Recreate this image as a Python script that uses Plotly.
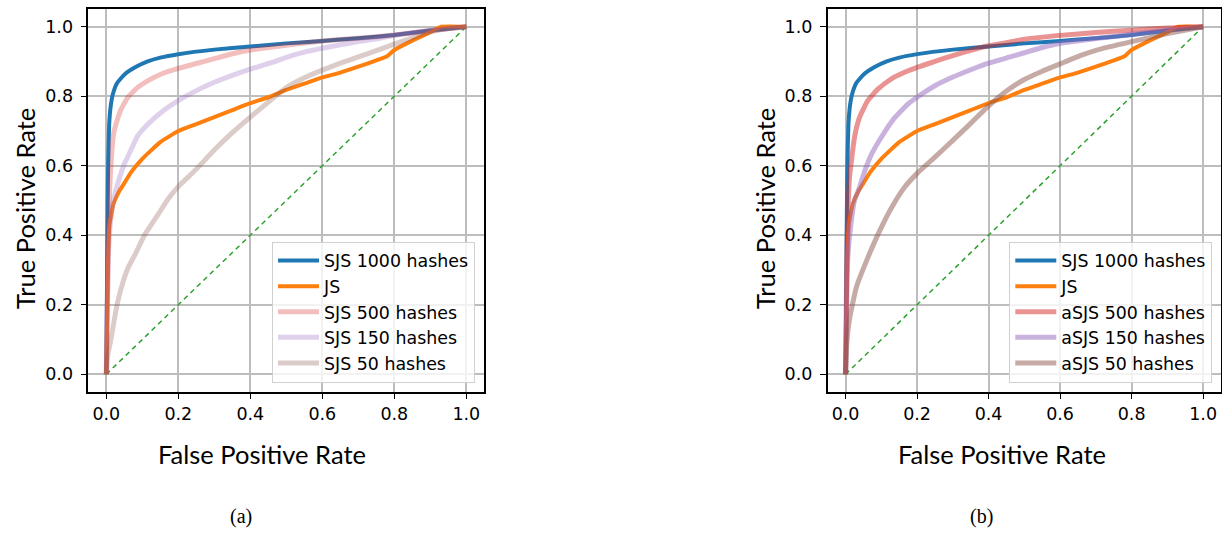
import plotly.graph_objects as go

# ---------------- data ----------------
diag = [0.0, 1.0]

fpr_sjs1000 = [0, 0.003, 0.005, 0.008, 0.012, 0.018, 0.03, 0.05, 0.08, 0.115, 0.15, 0.2, 0.3, 0.4, 0.5, 0.6, 0.7, 0.8, 0.9, 1.0]
tpr_sjs1000 = [0, 0.4, 0.6, 0.72, 0.77, 0.805, 0.838, 0.862, 0.883, 0.9, 0.911, 0.921, 0.934, 0.943, 0.952, 0.959, 0.967, 0.976, 0.989, 1.0]

fpr_js = [0, 0.003, 0.005, 0.009, 0.02, 0.035, 0.05, 0.07, 0.1, 0.15, 0.2, 0.25, 0.3, 0.35, 0.4, 0.45, 0.5, 0.55, 0.6, 0.65, 0.7, 0.75, 0.78, 0.8, 0.85, 0.9, 0.93, 1.0]
tpr_js = [0, 0.2, 0.33, 0.43, 0.49, 0.525, 0.55, 0.583, 0.62, 0.668, 0.7, 0.72, 0.74, 0.76, 0.78, 0.797, 0.818, 0.836, 0.854, 0.868, 0.885, 0.903, 0.915, 0.933, 0.96, 0.984, 1.0, 1.0]

# panel (a)
fpr_sjs500 = [0, 0.003, 0.006, 0.01, 0.014, 0.02, 0.03, 0.04, 0.06, 0.088, 0.116, 0.153, 0.2, 0.25, 0.3, 0.35, 0.4, 0.48, 0.55, 0.6, 0.7, 0.8, 0.9, 1.0]
tpr_sjs500 = [0, 0.2, 0.4, 0.55, 0.62, 0.69, 0.73, 0.76, 0.797, 0.826, 0.845, 0.864, 0.88, 0.894, 0.908, 0.922, 0.933, 0.944, 0.953, 0.959, 0.967, 0.976, 0.989, 1.0]

fpr_sjs150 = [0, 0.003, 0.006, 0.012, 0.02, 0.035, 0.05, 0.065, 0.088, 0.116, 0.153, 0.2, 0.25, 0.3, 0.35, 0.4, 0.46, 0.5, 0.55, 0.6, 0.65, 0.7, 0.75, 0.8, 0.9, 1.0]
tpr_sjs150 = [0, 0.2, 0.35, 0.44, 0.5, 0.56, 0.605, 0.638, 0.687, 0.72, 0.754, 0.787, 0.816, 0.84, 0.86, 0.878, 0.897, 0.912, 0.927, 0.938, 0.948, 0.957, 0.965, 0.975, 0.989, 1.0]

fpr_sjs50 = [0, 0.002, 0.005, 0.014, 0.028, 0.042, 0.06, 0.08, 0.107, 0.144, 0.172, 0.2, 0.25, 0.3, 0.35, 0.4, 0.45, 0.5, 0.55, 0.6, 0.65, 0.7, 0.75, 0.8, 0.85, 0.9, 0.95, 1.0]
tpr_sjs50 = [0, 0.03, 0.06, 0.107, 0.19, 0.25, 0.305, 0.345, 0.402, 0.46, 0.505, 0.54, 0.59, 0.645, 0.695, 0.74, 0.783, 0.825, 0.853, 0.875, 0.895, 0.913, 0.931, 0.95, 0.968, 0.985, 0.995, 1.0]

# panel (b)
fpr_asjs500 = [0, 0.003, 0.006, 0.011, 0.025, 0.039, 0.062, 0.091, 0.128, 0.165, 0.2, 0.25, 0.3, 0.35, 0.4, 0.46, 0.5, 0.6, 0.7, 0.8, 0.9, 1.0]
tpr_asjs500 = [0, 0.3, 0.45, 0.567, 0.682, 0.739, 0.787, 0.821, 0.85, 0.869, 0.883, 0.9, 0.917, 0.932, 0.945, 0.956, 0.964, 0.975, 0.983, 0.99, 0.996, 1.0]

fpr_asjs150 = [0, 0.003, 0.006, 0.012, 0.025, 0.039, 0.054, 0.073, 0.1, 0.138, 0.175, 0.2, 0.25, 0.3, 0.35, 0.4, 0.46, 0.5, 0.55, 0.6, 0.7, 0.8, 0.9, 1.0]
tpr_asjs150 = [0, 0.2, 0.33, 0.405, 0.5, 0.538, 0.586, 0.634, 0.682, 0.739, 0.778, 0.797, 0.83, 0.855, 0.876, 0.895, 0.913, 0.925, 0.94, 0.952, 0.966, 0.978, 0.99, 1.0]

fpr_asjs50 = [0, 0.003, 0.006, 0.012, 0.03, 0.06, 0.096, 0.13, 0.165, 0.2, 0.25, 0.3, 0.35, 0.4, 0.45, 0.5, 0.55, 0.6, 0.66, 0.7, 0.8, 0.9, 1.0]
tpr_asjs50 = [0, 0.08, 0.12, 0.165, 0.25, 0.33, 0.414, 0.482, 0.538, 0.578, 0.625, 0.673, 0.722, 0.772, 0.815, 0.848, 0.872, 0.893, 0.918, 0.932, 0.957, 0.98, 1.0]

tick_vals = [0.0, 0.2, 0.4, 0.6, 0.8, 1.0]
tick_text = ["0.0", "0.2", "0.4", "0.6", "0.8", "1.0"]

names_a = ["SJS 1000 hashes", "JS", "SJS 500 hashes", "SJS 150 hashes", "SJS 50 hashes"]
names_b = ["SJS 1000 hashes", "JS", "aSJS 500 hashes", "aSJS 150 hashes", "aSJS 50 hashes"]
captions = ["(a)", "(b)"]
x_title = "False Positive Rate"
y_title = "True Positive Rate"

# ---------------- styles ----------------
BLUE = "#1f77b4"
ORANGE = "#ff7f0e"
GREEN = "#2ca02c"
W = 1222
H = 533

fig = go.Figure()

def add_panel(xa, ya, leg, curves):
    fig.add_trace(go.Scatter(x=diag, y=diag, mode="lines", xaxis=xa, yaxis=ya,
                             line=dict(color=GREEN, width=1.5, dash="5px,4px"),
                             showlegend=False, hoverinfo="skip"))
    for (fx, ty, name, color, width) in curves:
        fig.add_trace(go.Scatter(x=fx, y=ty, mode="lines", name=name, xaxis=xa, yaxis=ya,
                                 legend=leg, line=dict(color=color, width=width, shape="spline", smoothing=0.4)))

add_panel("x", "y", "legend", [
    (fpr_sjs1000, tpr_sjs1000, names_a[0], BLUE, 4),
    (fpr_js, tpr_js, names_a[1], ORANGE, 4),
    (fpr_sjs500, tpr_sjs500, names_a[2], "rgba(214,39,40,0.3)", 5),
    (fpr_sjs150, tpr_sjs150, names_a[3], "rgba(148,103,189,0.3)", 5),
    (fpr_sjs50, tpr_sjs50, names_a[4], "rgba(140,86,75,0.3)", 5),
])
add_panel("x2", "y2", "legend2", [
    (fpr_sjs1000, tpr_sjs1000, names_b[0], BLUE, 4),
    (fpr_js, tpr_js, names_b[1], ORANGE, 4),
    (fpr_asjs500, tpr_asjs500, names_b[2], "rgba(214,39,40,0.5)", 5),
    (fpr_asjs150, tpr_asjs150, names_b[3], "rgba(148,103,189,0.5)", 5),
    (fpr_asjs50, tpr_asjs50, names_b[4], "rgba(140,86,75,0.5)", 5),
])

axis_common = dict(range=[-0.05, 1.05], tickvals=tick_vals, ticktext=tick_text,
                   showgrid=True, gridcolor="#bdbdbd", gridwidth=1.5, zeroline=False,
                   showline=True, mirror=True, linecolor="black", linewidth=1.5,
                   ticks="outside", ticklen=6, tickwidth=1.2, tickcolor="black",
                   tickfont=dict(family="DejaVu Sans", size=17.5, color="black"))

legend_common = dict(y=1 - 382.7 / H, xanchor="right", yanchor="bottom",
                     bgcolor="rgba(255,255,255,0.8)", bordercolor="#d0d0d0", borderwidth=1,
                     font=dict(family="DejaVu Sans", size=17.4, color="black"), itemwidth=41)

ydom = [1 - 391.7 / H, 1 - 9.3 / H]
fig.update_layout(
    width=W, height=H, autosize=False,
    margin=dict(l=0, r=0, t=0, b=0),
    paper_bgcolor="white", plot_bgcolor="white",
    xaxis=dict(domain=[88.3 / W, 484.3 / W], anchor="y", **axis_common),
    yaxis=dict(domain=ydom, anchor="x", ticklabelstandoff=4, **axis_common),
    xaxis2=dict(domain=[827.7 / W, 1221.0 / W], anchor="y2", **axis_common),
    yaxis2=dict(domain=ydom, anchor="x2", ticklabelstandoff=4, **axis_common),
    legend=dict(x=475 / W, **legend_common),
    legend2=dict(x=1212.3 / W, **legend_common),
)

title_font = dict(family="Lato", size=25.5, color="black")
cap_font = dict(family="Liberation Serif", size=20, color="black")
for xc, yc in [(261.7, 25), (1002, 765)]:
    fig.add_annotation(x=xc / W, y=1 - 454 / H, xref="paper", yref="paper", text=x_title,
                       showarrow=False, font=title_font, xanchor="center", yanchor="middle")
    fig.add_annotation(x=yc / W, y=1 - 209 / H, xref="paper", yref="paper", text=y_title,
                       showarrow=False, font=title_font, textangle=-90, xanchor="center", yanchor="middle")
for cap, xc in zip(captions, [240.7, 981.7]):
    fig.add_annotation(x=xc / W, y=1 - 516.7 / H, xref="paper", yref="paper", text=cap,
                       showarrow=False, font=cap_font, xanchor="center", yanchor="middle")

fig.write_html("out.html", config={"displayModeBar": False},
               post_script="document.body.style.margin='0';")
